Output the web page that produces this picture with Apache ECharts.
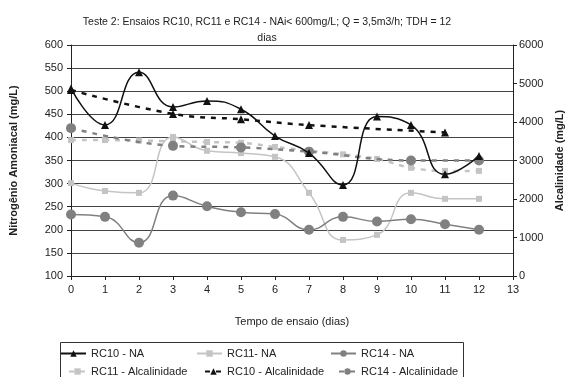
<!DOCTYPE html>
<html><head><meta charset="utf-8">
<script src="https://cdn.jsdelivr.net/npm/echarts@6/dist/echarts.min.js"></script>
<style>html,body{margin:0;padding:0;background:#fff}#c{width:587px;height:377px}</style>
</head><body><div id="c"></div>
<script>
const days = [0,1,2,3,4,5,6,7,8,9,10,11,12];
const rc10NA = [506,427,541,466,479,461,403,366,297,445,427,320,360];
const rc11NA = [301,284,280,401,371,366,358,280,178,189,280,267,267];
const rc14NA = [233,228,172,274,251,238,234,200,228,218,223,212,200];
const rc11AlcDays = [0,1,2,3,4,5,6,7,8,9,10,11,12];
const rc11Alc = [3530,3530,3520,3500,3480,3460,3350,3260,3160,3040,2810,2730,2730];
const rc10AlcDays = [0,3,5,7,11];
const rc10Alc = [4830,4210,4070,3920,3730];
const rc14AlcDays = [0,3,5,7,10,12];
const rc14Alc = [3840,3380,3340,3230,3000,3000];
const names = ['RC10 - NA','RC11- NA','RC14 - NA','RC11 - Alcalinidade','RC10 - Alcalinidade','RC14 - Alcalinidade'];

const pairs = (xs, ys) => xs.map((x,i)=>[x, ys[i]]);
const FONT = 'Liberation Sans, Arial, sans-serif';
const txt = {fontFamily: FONT, fontSize: 11, color: '#222'};

const chart = echarts.init(document.getElementById('c'), null, {renderer:'canvas'});
function leg(name, left, top, w){
  return {data:[name], left:left, top:top, itemWidth:w, itemHeight:8, itemGap:0, padding:0,
          textStyle:Object.assign({}, txt, {fontSize:11}), selectedMode:false};
}
chart.setOption({
  animation:false,
  backgroundColor:'#fff',
  title:{text:'Teste 2: Ensaios RC10, RC11 e RC14 - NAi< 600mg/L; Q = 3,5m3/h; TDH = 12\ndias',
         left:262, textAlign:'center', top:9,
         textStyle:Object.assign({}, txt, {fontSize:10.5, fontWeight:'normal', lineHeight:16})},
  grid:{left:68, right:74, top:45, bottom:101},
  legend:[
    leg(names[0],60,348,25), leg(names[1],196,348,25), leg(names[2],330,348,25),
    leg(names[3],68,366,17), leg(names[4],204,366,17), leg(names[5],338,366,17)
  ],
  graphic:[{type:'rect', shape:{x:60.5,y:342.5,width:403,height:40}, style:{fill:'none', stroke:'#333', lineWidth:1}, z:-1}],
  xAxis:{type:'value', min:0, max:13, interval:1,
    name:'Tempo de ensaio (dias)', nameLocation:'middle', nameGap:40, nameTextStyle:txt,
    axisLine:{lineStyle:{color:'#222'}}, axisTick:{length:4, lineStyle:{color:'#222'}},
    axisLabel:Object.assign({}, txt, {margin:8}), splitLine:{show:false}},
  yAxis:[
    {type:'value', min:100, max:600, interval:50, position:'left',
     name:'Nitrogênio Amoniacal (mg/L)', nameLocation:'middle', nameGap:52,
     nameTextStyle:Object.assign({}, txt, {fontWeight:'bold'}),
     axisLine:{show:true, lineStyle:{color:'#222'}}, axisTick:{show:true, length:4, lineStyle:{color:'#222'}},
     axisLabel:Object.assign({}, txt, {margin:8}),
     splitLine:{show:true, lineStyle:{color:'#444', width:1}}},
    {type:'value', min:0, max:6000, interval:1000, position:'right',
     name:'Alcalinidade (mg/L)', nameLocation:'middle', nameGap:30, nameRotate:90,
     nameTextStyle:Object.assign({}, txt, {fontWeight:'bold'}),
     axisLine:{show:true, lineStyle:{color:'#222'}}, axisTick:{show:true, length:4, lineStyle:{color:'#222'}},
     axisLabel:Object.assign({}, txt, {margin:6, formatter: v => String(v)}), splitLine:{show:false}}
  ],
  series:[
    {name:names[0], type:'line', yAxisIndex:0, smooth:0.5, data:pairs(days, rc10NA),
     symbol:'triangle', symbolSize:8, lineStyle:{color:'#111', width:1.5}, itemStyle:{color:'#111'}, z:5},
    {name:names[1], type:'line', yAxisIndex:0, smooth:0.5, data:pairs(days, rc11NA),
     symbol:'rect', symbolSize:6, lineStyle:{color:'#c4c4c4', width:1.5}, itemStyle:{color:'#c4c4c4'}, z:3},
    {name:names[2], type:'line', yAxisIndex:0, smooth:0.5, data:pairs(days, rc14NA),
     symbol:'circle', symbolSize:10, lineStyle:{color:'#808080', width:1.5}, itemStyle:{color:'#808080'}, z:4},
    {name:names[3], type:'line', yAxisIndex:1, smooth:0.4, data:pairs(rc11AlcDays, rc11Alc),
     symbol:'rect', symbolSize:6, lineStyle:{color:'#c4c4c4', width:2.5, type:[5,6]}, itemStyle:{color:'#c4c4c4'}, z:2},
    {name:names[4], type:'line', yAxisIndex:1, smooth:0.4, data:pairs(rc10AlcDays, rc10Alc),
     symbol:'triangle', symbolSize:8, lineStyle:{color:'#111', width:2.5, type:[5,6]}, itemStyle:{color:'#111'}, z:4},
    {name:names[5], type:'line', yAxisIndex:1, smooth:0.4, data:pairs(rc14AlcDays, rc14Alc),
     symbol:'circle', symbolSize:10, lineStyle:{color:'#808080', width:2.5, type:[5,6]}, itemStyle:{color:'#808080'}, z:3}
  ]
});
</script></body></html>
